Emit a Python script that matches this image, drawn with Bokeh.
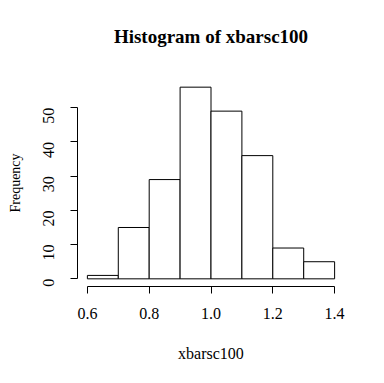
import math
from bokeh.plotting import figure
from bokeh.models import Range1d, FixedTicker, Title
from bokeh.embed import file_html
from bokeh.resources import INLINE

# Data
breaks = [0.6, 0.7, 0.8, 0.9, 1.0, 1.1, 1.2, 1.3, 1.4]
counts = [1, 15, 29, 56, 49, 36, 9, 5]
x_ticks = [0.6, 0.8, 1.0, 1.2, 1.4]
x_tick_labels = ["0.6", "0.8", "1.0", "1.2", "1.4"]
y_ticks = [0, 10, 20, 30, 40, 50]

title_text = "Histogram of xbarsc100"
xlab = "xbarsc100"
ylab = "Frequency"

FONT = "Liberation Serif"

xmin, xmax = breaks[0], breaks[-1]
xpad = 0.04 * (xmax - xmin)
ymax = max(counts)
ypad = 0.04 * ymax

p = figure(width=368, height=367, output_backend="svg", toolbar_location=None,
           title=None,
           x_range=Range1d(xmin - xpad, xmax + xpad),
           y_range=Range1d(-ypad, ymax + ypad),
           min_border_left=77, min_border_right=24,
           min_border_top=79, min_border_bottom=81)

p.quad(left=breaks[:-1], right=breaks[1:], top=counts, bottom=0,
       fill_color="white", line_color="black", line_width=1)

p.outline_line_color = None
p.xgrid.grid_line_color = None
p.ygrid.grid_line_color = None
p.background_fill_color = "white"
p.border_fill_color = "white"

# spacer panel between plot region and the main title
p.add_layout(Title(text=" ", text_font=FONT, text_font_size="10px", standoff=18), "above")
p.add_layout(Title(text=title_text, align="center", text_font=FONT,
                   text_font_size="19px", text_font_style="bold",
                   text_color="black", standoff=4), "above")

for ax in (p.xaxis[0], p.yaxis[0]):
    ax.axis_line_color = "black"
    ax.axis_line_width = 1
    ax.major_tick_line_color = "black"
    ax.major_tick_out = 7
    ax.major_tick_in = 0
    ax.minor_tick_line_color = None
    ax.major_label_text_font = FONT
    ax.major_label_text_font_size = "16px"
    ax.major_label_text_color = "black"
    ax.axis_label_text_font = FONT
    ax.axis_label_text_font_style = "normal"
    ax.axis_label_text_color = "black"

xa = p.xaxis[0]
xa.ticker = FixedTicker(ticks=x_ticks)
xa.major_label_overrides = {t: l for t, l in zip(x_ticks, x_tick_labels)}
xa.bounds = (xmin, xmax)
xa.major_label_standoff = 14
xa.axis_label = xlab
xa.axis_label_text_font_size = "16px"
xa.axis_label_standoff = 23

ya = p.yaxis[0]
ya.ticker = FixedTicker(ticks=y_ticks)
ya.bounds = (y_ticks[0], y_ticks[-1])
ya.major_label_orientation = math.pi / 2
ya.major_label_standoff = 22
ya.axis_label = ylab
ya.axis_label_text_font_size = "14px"
ya.axis_label_standoff = 12

open("out.html", "w").write(file_html(p, INLINE))
